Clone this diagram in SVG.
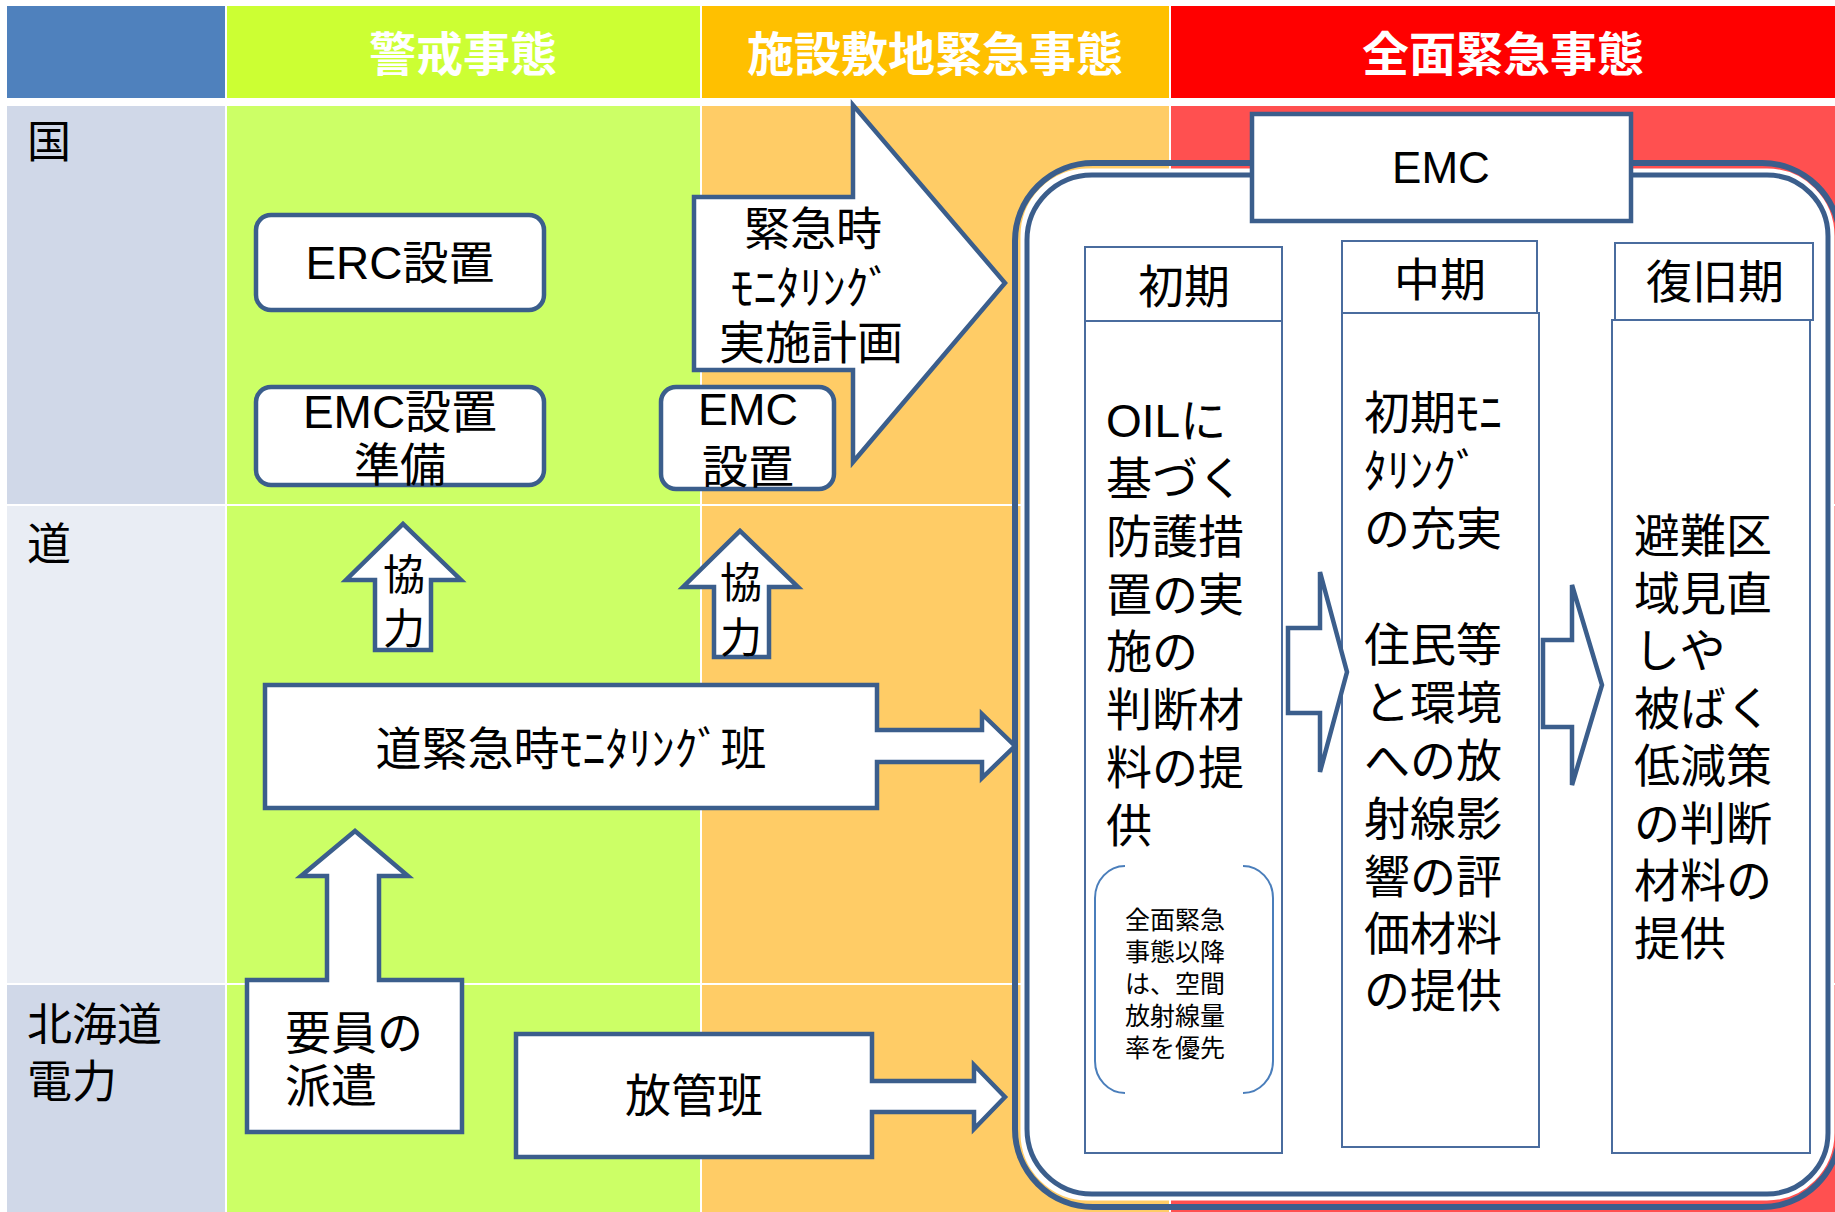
<svg xmlns="http://www.w3.org/2000/svg" width="1835" height="1212" viewBox="0 0 1835 1212">
<defs>
<style>
.jp{font-family:"Noto Sans CJK JP","Noto Sans CJK SC",sans-serif;fill:#000}
.mix{font-family:"Liberation Sans","Noto Sans CJK JP",sans-serif;fill:#000}
.hd{font-family:"Noto Sans CJK JP",sans-serif;font-weight:bold;fill:#fff;font-size:47px;text-anchor:middle}
.node{fill:#fff;stroke:#3B5E8C;stroke-width:4.5;stroke-linejoin:miter}
.thin{fill:#fff;stroke:#4A6C9E;stroke-width:2}
.arr{fill:#fff;stroke:#3B5E8C;stroke-width:4.5;stroke-linejoin:miter}
.mid{text-anchor:middle}
</style>
</defs>
<rect width="1835" height="1212" fill="#fff"/>
<g id="grid">
<rect x="7" y="6" width="218" height="92" fill="#4F81BD"/>
<rect x="227" y="6" width="473" height="92" fill="#CCFF33"/>
<rect x="702" y="6" width="467" height="92" fill="#FFC000"/>
<rect x="1171" y="6" width="664" height="92" fill="#FF0000"/>
<rect x="7" y="106" width="218" height="398" fill="#D0D8E8"/>
<rect x="7" y="506" width="218" height="477" fill="#E9EDF4"/>
<rect x="7" y="985" width="218" height="227" fill="#D0D8E8"/>
<rect x="227" y="106" width="473" height="398" fill="#CCFF66"/>
<rect x="227" y="506" width="473" height="477" fill="#CCFF66"/>
<rect x="227" y="985" width="473" height="227" fill="#CCFF66"/>
<rect x="702" y="106" width="467" height="398" fill="#FFCC66"/>
<rect x="702" y="506" width="467" height="477" fill="#FFCC66"/>
<rect x="702" y="985" width="467" height="227" fill="#FFCC66"/>
<rect x="1171" y="106" width="664" height="398" fill="#FF5050"/>
<rect x="1171" y="506" width="664" height="477" fill="#FF5050"/>
<rect x="1171" y="985" width="664" height="227" fill="#FF5050"/>
<text class="hd" x="463" y="71">警戒事態</text>
<text class="hd" x="935" y="71">施設敷地緊急事態</text>
<text class="hd" x="1503" y="71">全面緊急事態</text>
<text class="jp" x="27" y="158" font-size="44">国</text>
<text class="jp" x="27" y="560" font-size="44">道</text>
<text class="jp" x="27" y="1041" font-size="45">北海道</text>
<text class="jp" x="27" y="1098" font-size="45">電力</text>
</g>
<g id="emc-container">
<path d="M1093,163 H1762 A78,78 0 0 1 1840,241 V1129 A78,78 0 0 1 1762,1207 H1093 A78,78 0 0 1 1015,1129 V241 A78,78 0 0 1 1093,163 Z" fill="none" stroke="#3B5E8C" stroke-width="6"/>
<path d="M1088,170 H1767 A66,66 0 0 1 1833,236 V1133 A66,66 0 0 1 1767,1199 H1088 A66,66 0 0 1 1022,1133 V236 A66,66 0 0 1 1088,170 Z" fill="#fff" stroke="#fff" stroke-width="3"/>
<path d="M1092,175 H1767 A61,61 0 0 1 1828,236 V1133 A61,61 0 0 1 1767,1194 H1092 A65,65 0 0 1 1027,1129 V240 A65,65 0 0 1 1092,175 Z" fill="#fff" stroke="#3B5E8C" stroke-width="5"/>
</g>
<g id="emc-label">
<rect x="1252" y="114" width="379" height="107" class="node"/>
<text class="mix mid" x="1441" y="183" font-size="44">EMC</text>
</g>
<g id="col-initial">
<rect class="thin" x="1085" y="247" width="197" height="74"/>
<rect class="thin" x="1085" y="321" width="197" height="832"/>
<text class="jp mid" x="1184" y="303" font-size="46">初期</text>
<text class="mix" x="1106" font-size="46"><tspan x="1106" y="437">OILに</tspan><tspan x="1106" y="495">基づく</tspan><tspan x="1106" y="553">防護措</tspan><tspan x="1106" y="611">置の実</tspan><tspan x="1106" y="668">施の</tspan><tspan x="1106" y="726">判断材</tspan><tspan x="1106" y="784">料の提</tspan><tspan x="1106" y="842">供</tspan></text>
<path d="M1125,866 A30,32 0 0 0 1095,898 V1061 A30,32 0 0 0 1125,1093" fill="none" stroke="#4A7EBB" stroke-width="2"/>
<path d="M1243,866 A30,32 0 0 1 1273,898 V1061 A30,32 0 0 1 1243,1093" fill="none" stroke="#4A7EBB" stroke-width="2"/>
<text class="jp" font-size="25"><tspan x="1125" y="929">全面緊急</tspan><tspan x="1125" y="961">事態以降</tspan><tspan x="1125" y="993">は、空間</tspan><tspan x="1125" y="1025">放射線量</tspan><tspan x="1125" y="1057">率を優先</tspan></text>
</g>
<g id="col-middle">
<rect class="thin" x="1342" y="241" width="195" height="72"/>
<rect class="thin" x="1342" y="313" width="197" height="834"/>
<text class="jp mid" x="1440" y="296" font-size="46">中期</text>
<text class="jp" font-size="46"><tspan x="1364" y="429">初期ﾓﾆ</tspan><tspan x="1364" y="487">ﾀﾘﾝｸﾞ</tspan><tspan x="1364" y="545">の充実</tspan><tspan x="1364" y="661">住民等</tspan><tspan x="1364" y="719">と環境</tspan><tspan x="1364" y="777">への放</tspan><tspan x="1364" y="835">射線影</tspan><tspan x="1364" y="893">響の評</tspan><tspan x="1364" y="950">価材料</tspan><tspan x="1364" y="1007">の提供</tspan></text>
</g>
<g id="col-recovery">
<rect class="thin" x="1615" y="243" width="198" height="77"/>
<rect class="thin" x="1612" y="320" width="198" height="833"/>
<text class="jp mid" x="1715" y="298" font-size="46">復旧期</text>
<text class="jp" font-size="46"><tspan x="1634" y="552">避難区</tspan><tspan x="1634" y="610">域見直</tspan><tspan x="1634" y="667">しや</tspan><tspan x="1634" y="725">被ばく</tspan><tspan x="1634" y="782">低減策</tspan><tspan x="1634" y="840">の判断</tspan><tspan x="1634" y="897">材料の</tspan><tspan x="1634" y="955">提供</tspan></text>
</g>
<g id="erc">
<rect x="256" y="215" width="288" height="95" rx="15" class="node"/>
<text class="mix mid" x="400" y="279" font-size="46">ERC設置</text>
</g>
<g id="emc-prep">
<rect x="256" y="387" width="288" height="98" rx="15" class="node"/>
<text class="mix mid" x="400" y="428" font-size="46">EMC設置</text>
<text class="jp mid" x="400" y="481" font-size="46">準備</text>
</g>
<g id="emc-setup">
<rect x="661" y="387" width="173" height="102" rx="15" class="node"/>
<text class="mix mid" x="748" y="425" font-size="45">EMC</text>
<text class="jp mid" x="748" y="483" font-size="46">設置</text>
</g>
<g id="plan">
<path class="arr" d="M694,197 H853 V105 L1005,283 L853,462 V370 H694 Z"/>
<text class="jp mid" x="813" y="245" font-size="46">緊急時</text>
<text class="jp mid" x="811" y="304" font-size="46">ﾓﾆﾀﾘﾝｸﾞ</text>
<text class="jp mid" x="811" y="359" font-size="46">実施計画</text>
</g>
<g id="hokkaido-team">
<path class="arr" d="M265,685 H877 V730 H982 V714 L1015,746 L982,778 V762 H877 V808 H265 Z"/>
<text class="jp mid" x="571" y="765" font-size="46">道緊急時ﾓﾆﾀﾘﾝｸﾞ班</text>
</g>
<g id="dispatch">
<path class="arr" d="M247,980 H327 V876 H301 L355,831 L408,876 H379 V980 H462 V1132 H247 Z"/>
<text class="jp" font-size="46"><tspan x="285" y="1049">要員の</tspan><tspan x="285" y="1102">派遣</tspan></text>
</g>
<g id="radiation-team">
<path class="arr" d="M516,1034 H872 V1081 H974 V1065 L1005,1097 L974,1129 V1112 H872 V1157 H516 Z"/>
<text class="jp mid" x="694" y="1112" font-size="46">放管班</text>
</g>
<g id="connectors">
<g id="coop1">
<path class="arr" d="M375,650 V580 H346 L403,524 L461,580 H431 V650 Z"/>
<text class="jp mid" x="404" y="590" font-size="42">協</text>
<text class="jp mid" x="404" y="644" font-size="42">力</text>
</g>
<g id="coop2">
<path class="arr" d="M714,657 V587 H683 L740,531 L798,587 H769 V657 Z"/>
<text class="jp mid" x="741" y="598" font-size="42">協</text>
<text class="jp mid" x="741" y="653" font-size="42">力</text>
</g>
<path class="arr" d="M1288,628 H1320 V572 L1347,672 L1320,772 V713 H1288 Z"/>
<path class="arr" d="M1543,640 H1572 V585 L1602,685 L1572,785 V727 H1543 Z"/>
</g>
</svg>
